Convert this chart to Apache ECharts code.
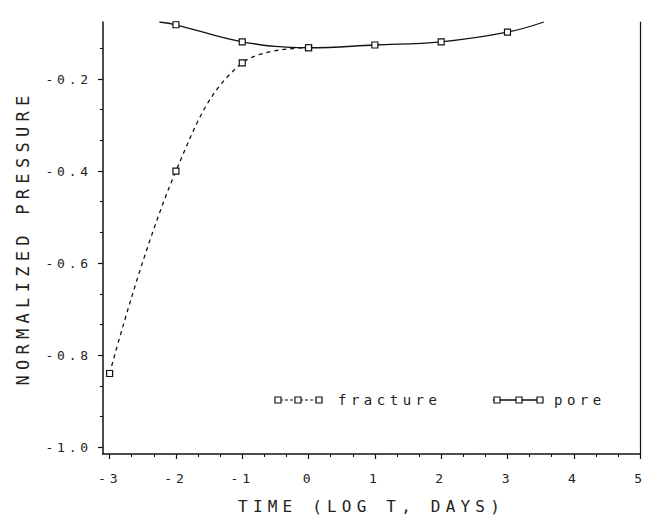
<!DOCTYPE html>
<html><head><meta charset="utf-8">
<script src="https://cdn.jsdelivr.net/npm/echarts@6/dist/echarts.min.js"></script>
<style>
html,body{margin:0;padding:0;background:#fff}
#c{width:647px;height:527px}
</style>
</head><body><div id="c"></div>
<script>
// ---- data ----
const xTicks = [-3, -2, -1, 0, 1, 2, 3, 4, 5];
const yTicks = [-1.0, -0.8, -0.6, -0.4, -0.2];
const fractureX = [-3, -2, -1, 0];
const fractureY = [-0.84, -0.40, -0.165, -0.132];
const poreX = [-2.25, -2, -1, 0, 1, 2, 3, 3.55];
const poreY = [-0.076, -0.082, -0.119, -0.132, -0.126, -0.119, -0.098, -0.076];
const poreMarked = [false, true, true, true, true, true, true, false];
const legendNames = ['fracture', 'pore'];
const xName = 'TIME (LOG T, DAYS)';
const yName = 'NORMALIZED PRESSURE';

const X_MIN = -3.1, X_MAX = 5, Y_MIN = -1.015, Y_MAX = -0.076;
const INK = '#111';
const FONT = "'DejaVu Sans Mono', monospace";

// minor tick positions (thirds between major ticks)
const xMinor = [];
xTicks.forEach((t, i) => { if (i < xTicks.length - 1) { const d = xTicks[i + 1] - t; xMinor.push(t + d / 3, t + 2 * d / 3); } });
const yMinor = [];
const yStep = yTicks[1] - yTicks[0];
for (let k = 0; k < 20; k++) { const v = yTicks[0] + k * yStep / 3; if (v < Y_MAX && k % 3 !== 0) yMinor.push(+v.toFixed(4)); }

const fractureData = fractureX.map((x, i) => [x, fractureY[i]]);
const poreData = poreX.map((x, i) => poreMarked[i] ? [x, poreY[i]] : { value: [x, poreY[i]], symbol: 'none' });

const chart = echarts.init(document.getElementById('c'), null, { renderer: 'svg' });

function sq(cx, cy) {
  return { type: 'rect', shape: { x: cx - 3, y: cy - 3, width: 6, height: 6 }, style: { fill: '#fff', stroke: INK, lineWidth: 1.2 }, z: 10 };
}

chart.setOption({
  animation: false,
  backgroundColor: '#fff',
  grid: { left: 103, right: 3, top: 22, bottom: 73, containLabel: false },
  xAxis: [{
    type: 'value', min: X_MIN, max: X_MAX, position: 'bottom',
    name: xName, nameLocation: 'middle', nameGap: 44,
    nameTextStyle: { fontFamily: FONT, fontSize: 16, color: '#222' },
    axisLine: { show: true, onZero: false, lineStyle: { color: INK, width: 1.5 } },
    axisTick: { show: true, length: 5, customValues: xTicks, lineStyle: { color: INK, width: 1.2 } },
    axisLabel: { customValues: xTicks, margin: 18, fontFamily: FONT, fontSize: 13, color: '#222' },
    splitLine: { show: false }
  }, {
    type: 'value', min: X_MIN, max: X_MAX, position: 'bottom',
    axisLine: { show: false, onZero: false },
    axisTick: { show: true, length: 3, customValues: xMinor, lineStyle: { color: INK, width: 1.1 } },
    axisLabel: { show: false }, splitLine: { show: false }
  }],
  yAxis: [{
    type: 'value', min: Y_MIN, max: Y_MAX, position: 'left',
    name: yName, nameLocation: 'middle', nameGap: 72, nameRotate: 90,
    nameTextStyle: { fontFamily: FONT, fontSize: 17, color: '#222' },
    axisLine: { show: true, onZero: false, lineStyle: { color: INK, width: 1.5 } },
    axisTick: { show: true, length: 5, customValues: yTicks, lineStyle: { color: INK, width: 1.2 } },
    axisLabel: { customValues: yTicks, margin: 11, fontFamily: FONT, fontSize: 13, color: '#222',
      formatter: v => v.toFixed(1) },
    splitLine: { show: false }
  }, {
    type: 'value', min: Y_MIN, max: Y_MAX, position: 'left',
    axisLine: { show: false, onZero: false },
    axisTick: { show: true, length: 3, customValues: yMinor, lineStyle: { color: INK, width: 1.1 } },
    axisLabel: { show: false }, splitLine: { show: false }
  }, {
    type: 'value', min: Y_MIN, max: Y_MAX, position: 'right',
    axisLine: { show: true, onZero: false, lineStyle: { color: INK, width: 1.2 } },
    axisTick: { show: false }, axisLabel: { show: false }, splitLine: { show: false }
  }],
  series: [{
    name: legendNames[0], type: 'line', xAxisIndex: 0, yAxisIndex: 0,
    data: fractureData, smooth: 0.4,
    symbol: 'rect', symbolSize: 6,
    lineStyle: { color: INK, width: 1.3, type: [4, 4] },
    itemStyle: { color: '#fff', borderColor: INK, borderWidth: 1.2 },
    z: 3
  }, {
    name: legendNames[1], type: 'line', xAxisIndex: 0, yAxisIndex: 0,
    data: poreData, smooth: 0.4,
    symbol: 'rect', symbolSize: 6,
    lineStyle: { color: INK, width: 1.3 },
    itemStyle: { color: '#fff', borderColor: INK, borderWidth: 1.2 },
    z: 4
  }],
  graphic: [
    { type: 'line', shape: { x1: 275, y1: 400, x2: 322, y2: 400 }, style: { stroke: INK, lineWidth: 1.2, lineDash: [3, 2] } },
    sq(278, 400), sq(298, 400), sq(319, 400),
    { type: 'text', x: 338, y: 400, style: { text: legendNames[0], font: "14px 'DejaVu Sans Mono'", fill: '#222', verticalAlign: 'middle', align: 'left' } },
    { type: 'line', shape: { x1: 493, y1: 400, x2: 543, y2: 400 }, style: { stroke: INK, lineWidth: 1.4 } },
    sq(497, 400), sq(519, 400), sq(540, 400),
    { type: 'text', x: 554, y: 400, style: { text: legendNames[1], font: "14px 'DejaVu Sans Mono'", fill: '#222', verticalAlign: 'middle', align: 'left' } }
  ]
});

// plotter-style wide letter spacing
function spaceLetters() {
  const map = { 13: '3.8px', 14: '4.5px', 16: '5.2px', 17: '5.3px' };
  document.querySelectorAll('#c text').forEach(t => {
    const fs = Math.round(parseFloat(getComputedStyle(t).fontSize));
    if (map[fs]) t.style.letterSpacing = map[fs];
  });
}
chart.getZr().flush();
spaceLetters();
chart.on('finished', spaceLetters);
</script>
</body></html>
